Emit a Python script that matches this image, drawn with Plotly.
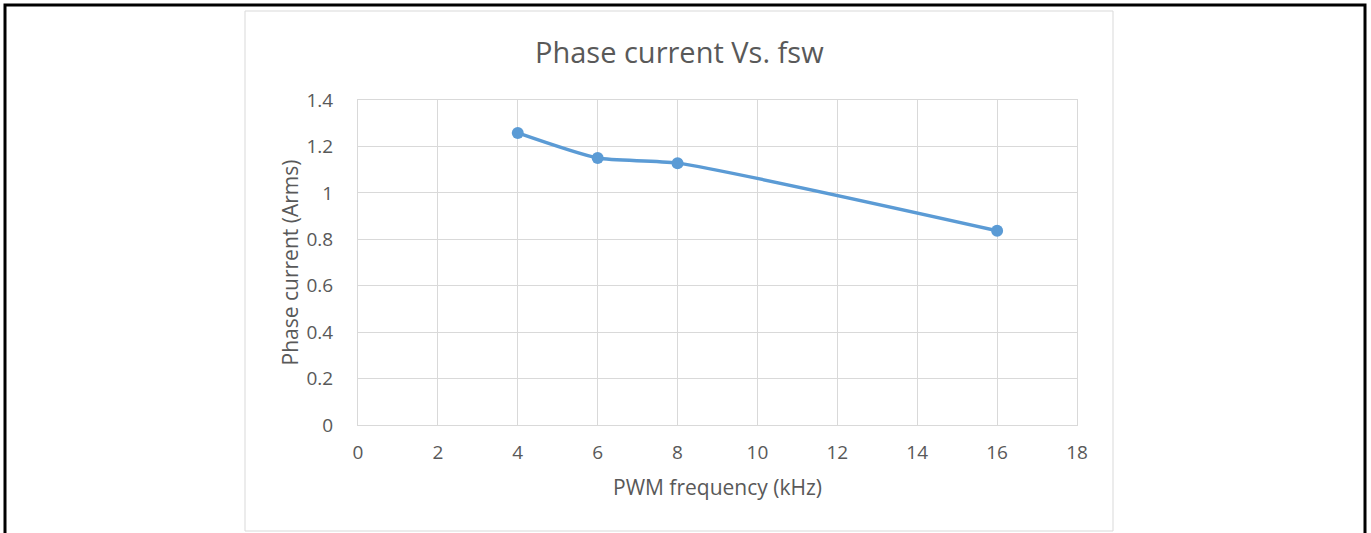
import plotly.graph_objects as go

freq_khz = [4, 6, 8, 16]
phase_current = [1.258, 1.150, 1.128, 0.837]
x_ticks = [0, 2, 4, 6, 8, 10, 12, 14, 16, 18]
y_ticks = [0, 0.2, 0.4, 0.6, 0.8, 1, 1.2, 1.4]
y_labels = ["0", "0.2", "0.4", "0.6", "0.8", "1", "1.2", "1.4"]

W, H = 1371, 533
L, R, T, B = 358, 1077, 100, 425
pw, ph = R - L, B - T

def px(x):
    return (x - L) / pw

def py(y):
    return (B - y) / ph

fig = go.Figure()
fig.add_trace(go.Scatter(
    x=freq_khz, y=phase_current, mode="lines+markers",
    line=dict(color="#5b9bd5", width=3.5, shape="spline", smoothing=0.6),
    marker=dict(color="#5b9bd5", size=12),
    showlegend=False, hoverinfo="x+y",
))

font = "Open Sans, Liberation Sans, sans-serif"
tick_font = dict(family=font, size=19, color="#595959")
title_font = dict(family=font, size=21, color="#595959")

fig.update_layout(
    width=W, height=H,
    margin=dict(l=L, r=W - R, t=T, b=H - B, pad=0),
    paper_bgcolor="white", plot_bgcolor="white",
    xaxis=dict(range=[0, 18], tickvals=x_ticks, ticktext=[str(v) for v in x_ticks],
               showgrid=True, gridcolor="#d9d9d9", gridwidth=1,
               showline=True, linecolor="#d9d9d9", linewidth=1, mirror=True,
               zeroline=False, ticks="", ticklabelstandoff=10, tickfont=tick_font,
               title=dict(text="PWM frequency (kHz)", font=title_font, standoff=16)),
    yaxis=dict(range=[0, 1.4], tickvals=y_ticks, ticktext=y_labels,
               showgrid=True, gridcolor="#d9d9d9", gridwidth=1,
               showline=True, linecolor="#d9d9d9", linewidth=1, mirror=True,
               zeroline=False, ticks="", ticklabelstandoff=20, tickfont=tick_font,
               title=dict(text="Phase current (Arms)", font=title_font, standoff=2)),
    shapes=[
        dict(type="rect", xref="paper", yref="paper",
             x0=px(245), x1=px(1113), y0=py(531), y1=py(11),
             line=dict(color="#d9d9d9", width=1), fillcolor="rgba(0,0,0,0)", layer="below"),
        dict(type="rect", xref="paper", yref="paper",
             x0=px(5), x1=px(1365), y0=py(545), y1=py(5),
             line=dict(color="black", width=3), fillcolor="rgba(0,0,0,0)"),
    ],
    annotations=[
        dict(text="Phase current Vs. fsw", xref="paper", yref="paper",
             x=px(679), y=py(51), xanchor="center", yanchor="middle", showarrow=False,
             font=dict(family=font, size=29, color="#595959")),
    ],
)

fig.write_html("out.html", config={"displayModeBar": False},
               post_script="document.body.style.margin='0';document.body.style.overflow='hidden';")
